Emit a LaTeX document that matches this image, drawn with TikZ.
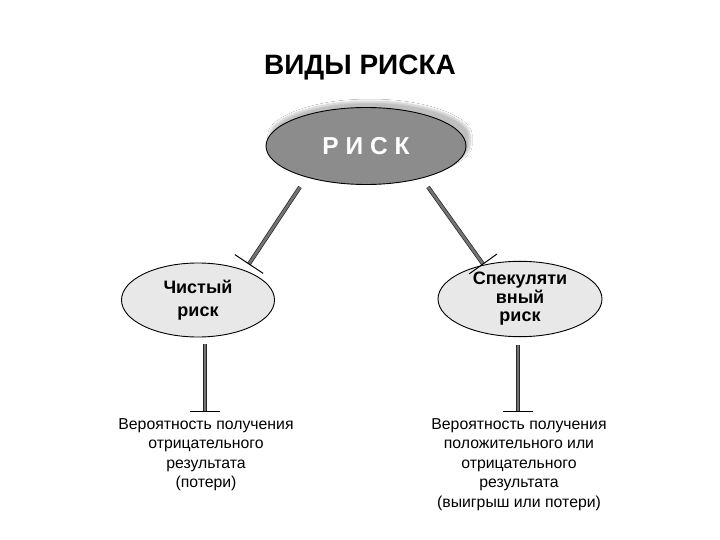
\documentclass[tikz,border=0pt]{standalone}
\usepackage{fontspec}
\setmainfont{Liberation Sans}
\usetikzlibrary{shapes.geometric,shadows.blur,calc}
\begin{document}
\begin{tikzpicture}[x=1pt,y=-1pt,
  oval/.style={ellipse,draw=black,line width=0.9pt,inner sep=0pt,align=center},
  bar/.style={draw=black!85,line width=0.7pt,double=black!55,double distance=2.6pt,line cap=butt},
  tee/.style={draw=black,line width=1pt},
  lbl/.style={font=\fontsize{15.8}{19.5}\selectfont,align=center}]
\useasboundingbox (0,0) rectangle (720,540);
\fill[white] (0,0) rectangle (720,540);
\node (title) at (360,68) {\fontsize{28}{32}\selectfont\bfseries ВИДЫ РИСКА};
\node[oval,fill=black!45,minimum width=200,minimum height=77,
  blur shadow={shadow xshift=4pt,shadow yshift=6pt,shadow blur steps=16,shadow opacity=25,shadow blur extra rounding=5pt}]
  (risk) at (366,146) {\textcolor{white}{\fontsize{24.5}{28}\selectfont\bfseries Р И С К}};
\node[oval,fill=black!9,minimum width=153,minimum height=74,
  font=\fontsize{18}{22.5}\selectfont\bfseries] (pure) at (198,300) {Чистый\\риск};
\node[oval,fill=black!9,minimum width=164,minimum height=74,
  font=\fontsize{18}{18.5}\selectfont\bfseries] (spec) at (520,299) {Спекуляти\\вный\\риск};
% connectors
\coordinate (a1) at ($(risk.center)+(-66,41)$);
\coordinate (a2) at ($(pure.center)+(51,-36)$);
\coordinate (b1) at ($(risk.center)+(62,41)$);
\coordinate (b2) at ($(spec.center)+(-37,-35)$);
\draw[bar] (a1) -- (a2);
\draw[tee] ($(a2)!17pt!90:(a1)$) -- ($(a2)!17pt!-90:(a1)$);
\draw[bar] (b1) -- (b2);
\draw[tee] ($(b2)!17pt!90:(b1)$) -- ($(b2)!17pt!-90:(b1)$);
\node[lbl,anchor=north] (lp) at (206,415) {Вероятность получения\\отрицательного\\результата\\(потери)};
\node[lbl,anchor=north] (rp) at (519,415) {Вероятность получения\\положительного или\\отрицательного\\результата\\(выигрыш или потери)};
\coordinate (c1) at ($(pure.south)+(7,7)$);
\coordinate (c2) at ($(spec.south)+(-2,8)$);
\coordinate (d1) at ($(lp.north -| c1)+(0,-4)$);
\coordinate (d2) at ($(rp.north -| c2)+(0,-4)$);
\draw[bar] (c1) -- (d1);
\draw[tee] ($(d1)+(-15,0)$) -- ($(d1)+(15,0)$);
\draw[bar] (c2) -- (d2);
\draw[tee] ($(d2)+(-15,0)$) -- ($(d2)+(15,0)$);
\end{tikzpicture}
\end{document}
